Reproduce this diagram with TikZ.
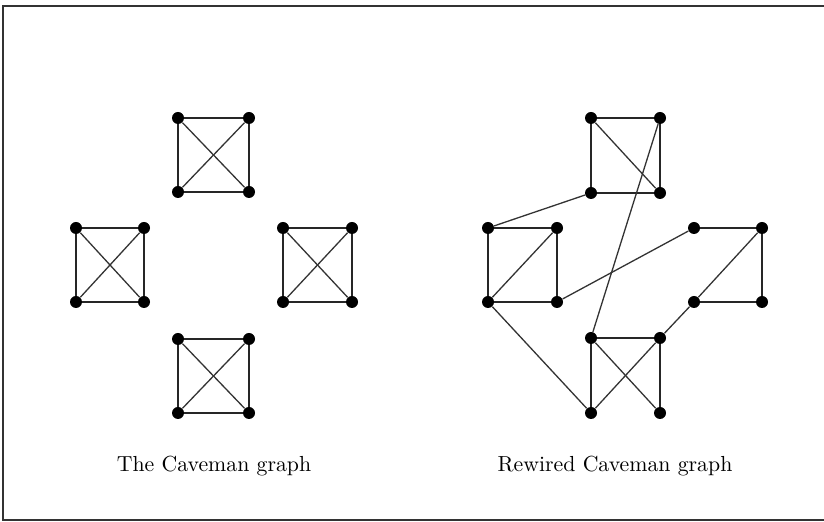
\documentclass[tikz,border=0pt]{standalone}
\usepackage{tikz}
\usetikzlibrary{positioning}

\begin{document}
\begin{tikzpicture}[
  x=0.5pt, y=-0.5pt,
  vtx/.style={circle, fill=black, inner sep=0pt, minimum size=6pt},
  edg/.style={line width=1.4pt, black!85},
  wire/.style={line width=0.65pt, black!80},
  caption/.style={font=\fontsize{10.9}{13}\selectfont}
]
\useasboundingbox (0,0) rectangle (824,522);
\draw[line width=1pt, black!80] (830,6) -- (3,6) -- (3,520) -- (830,520);

% the caveman graph
\node[vtx] (ttl) at (178,118) {};
\node[vtx] (ttr) at (249,118) {};
\node[vtx] (tbl) at (178,192) {};
\node[vtx] (tbr) at (249,192) {};
\node[vtx] (ltl) at (76,228) {};
\node[vtx] (ltr) at (144,228) {};
\node[vtx] (lbl) at (76,302) {};
\node[vtx] (lbr) at (144,302) {};
\node[vtx] (rtl) at (283,228) {};
\node[vtx] (rtr) at (352,228) {};
\node[vtx] (rbl) at (283,302) {};
\node[vtx] (rbr) at (352,302) {};
\node[vtx] (btl) at (178,339) {};
\node[vtx] (btr) at (249,339) {};
\node[vtx] (bbl) at (178,413) {};
\node[vtx] (bbr) at (249,413) {};

\draw[edg] (ttl) -- (ttr) -- (tbr) -- (tbl) -- (ttl);
\draw[wire] (ttl) -- (tbr);
\draw[wire] (ttr) -- (tbl);
\draw[edg] (ltl) -- (ltr) -- (lbr) -- (lbl) -- (ltl);
\draw[wire] (ltl) -- (lbr);
\draw[wire] (ltr) -- (lbl);
\draw[edg] (rtl) -- (rtr) -- (rbr) -- (rbl) -- (rtl);
\draw[wire] (rtl) -- (rbr);
\draw[wire] (rtr) -- (rbl);
\draw[edg] (btl) -- (btr) -- (bbr) -- (bbl) -- (btl);
\draw[wire] (btl) -- (bbr);
\draw[wire] (btr) -- (bbl);

\node[caption] (capl) at (214,466) {The Caveman graph};

% the rewired caveman graph
\node[vtx] (wttl) at (591,118) {};
\node[vtx] (wttr) at (660,118) {};
\node[vtx] (wtbl) at (591,193) {};
\node[vtx] (wtbr) at (660,193) {};
\node[vtx] (wltl) at (488,228) {};
\node[vtx] (wltr) at (557,228) {};
\node[vtx] (wlbl) at (488,302) {};
\node[vtx] (wlbr) at (557,302) {};
\node[vtx] (wrtl) at (694,228) {};
\node[vtx] (wrtr) at (762,228) {};
\node[vtx] (wrbl) at (694,302) {};
\node[vtx] (wrbr) at (762,302) {};
\node[vtx] (wbtl) at (591,338) {};
\node[vtx] (wbtr) at (660,338) {};
\node[vtx] (wbbl) at (591,413) {};
\node[vtx] (wbbr) at (660,413) {};

\draw[edg] (wtbl) -- (wttl) -- (wttr) -- (wtbr) -- (wtbl);
\draw[wire] (wttl) -- (wtbr);
\draw[edg] (wltl) -- (wltr) -- (wlbr) -- (wlbl) -- (wltl);
\draw[wire] (wltr) -- (wlbl);
\draw[edg] (wrtl) -- (wrtr) -- (wrbr) -- (wrbl);
\draw[wire] (wrtr) -- (wrbl);
\draw[edg] (wbbl) -- (wbtl) -- (wbtr) -- (wbbr);
\draw[wire] (wbtl) -- (wbbr);
\draw[wire] (wbtr) -- (wbbl);

\draw[wire] (wttr) -- (wbtl);
\draw[wire] (wtbl) -- (wltl);
\draw[wire] (wlbr) -- (wrtl);
\draw[wire] (wlbl) -- (wbbl);
\draw[wire] (wrbl) -- (wbtr);

\node[caption] (capr) at (615,466) {Rewired Caveman graph};
\end{tikzpicture}
\end{document}
